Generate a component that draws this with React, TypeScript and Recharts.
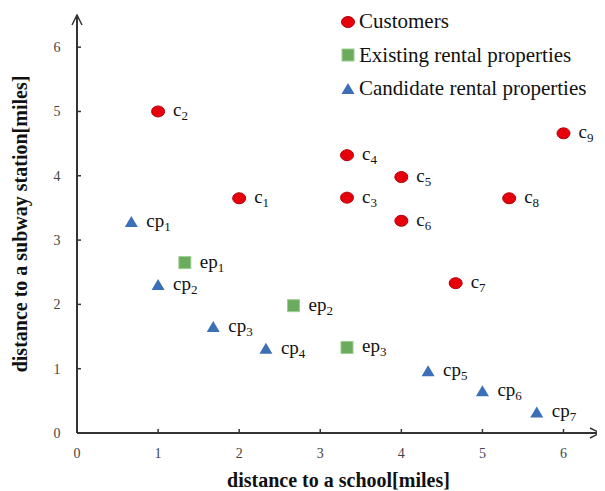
import React from "react";
import { ScatterChart, Scatter, XAxis, YAxis, Legend } from "recharts";

// customers c1..c9
const customerX = [2, 1, 3.33, 3.33, 4, 4, 4.67, 5.33, 6];
const customerY = [3.65, 5, 3.66, 4.32, 3.98, 3.3, 2.33, 3.65, 4.66];

// existing rental properties ep1..ep3
const existingX = [1.33, 2.67, 3.33];
const existingY = [2.65, 1.98, 1.33];

// candidate rental properties cp1..cp7
const candidateX = [0.67, 1, 1.68, 2.33, 4.33, 5, 5.67];
const candidateY = [3.28, 2.3, 1.65, 1.31, 0.96, 0.65, 0.32];

const axisTicks = [0, 1, 2, 3, 4, 5, 6];

const toPoints = (xs: number[], ys: number[]) =>
  xs.map((x, i) => ({ x, y: ys[i], id: i + 1 }));

const customers = toPoints(customerX, customerY);
const existing = toPoints(existingX, existingY);
const candidates = toPoints(candidateX, candidateY);

const RED = "#e5000b";
const GREEN = "#6bab5e";
const BLUE = "#3b70b6";
const SERIF = "'Liberation Serif', 'Times New Roman', serif";

const PointLabel = ({ cx, cy, prefix, id }: any) => (
  <text x={cx + 15} y={cy + 5} fontFamily={SERIF} fontSize={19} fill="#111">
    {prefix}
    <tspan fontSize={13} dy={4}>
      {id}
    </tspan>
  </text>
);

const circleShape = (p: any) => (
  <g>
    <ellipse cx={p.cx} cy={p.cy} rx={6.5} ry={5.5} fill={RED} stroke="#b3000a" strokeWidth={1} />
    <PointLabel cx={p.cx} cy={p.cy} prefix="c" id={p.payload.id} />
  </g>
);

const squareShape = (p: any) => (
  <g>
    <rect x={p.cx - 6} y={p.cy - 6} width={12} height={12} fill={GREEN} stroke="#9ccf92" strokeWidth={1} />
    <PointLabel cx={p.cx} cy={p.cy} prefix="ep" id={p.payload.id} />
  </g>
);

const triangleShape = (p: any) => (
  <g>
    <path d={`M${p.cx},${p.cy - 6} L${p.cx + 6.5},${p.cy + 5} L${p.cx - 6.5},${p.cy + 5} Z`} fill={BLUE} />
    <PointLabel cx={p.cx} cy={p.cy} prefix="cp" id={p.payload.id} />
  </g>
);

const XTick = ({ x, y, payload }: any) => (
  <g>
    {payload.value !== 0 && <line x1={x} y1={y} x2={x} y2={y - 4} stroke="#333" strokeWidth={1.5} />}
    <text x={x} y={y + 25} textAnchor="middle" fontFamily={SERIF} fontSize={14} fill="#444">
      {payload.value}
    </text>
  </g>
);

const YTick = ({ x, y, payload }: any) => (
  <g>
    {payload.value !== 0 && <line x1={x} y1={y} x2={x + 4} y2={y} stroke="#333" strokeWidth={1.5} />}
    <text x={x - 20} y={y + 5} textAnchor="middle" fontFamily={SERIF} fontSize={14} fill="#444">
      {payload.value}
    </text>
  </g>
);

const legendItems = [
  { label: "Customers", kind: "circle" },
  { label: "Existing rental properties", kind: "square" },
  { label: "Candidate rental properties", kind: "triangle" },
];

const LegendIcon = ({ kind }: { kind: string }) => (
  <svg width={14} height={14} style={{ marginRight: 4 }}>
    {kind === "circle" && <ellipse cx={7} cy={7} rx={6.5} ry={5.5} fill={RED} stroke="#b3000a" />}
    {kind === "square" && <rect x={1} y={1} width={12} height={12} fill={GREEN} stroke="#9ccf92" />}
    {kind === "triangle" && <path d="M7,1 L13.5,12 L0.5,12 Z" fill={BLUE} />}
  </svg>
);

const renderLegend = () => (
  <div>
    {legendItems.map((it) => (
      <div
        key={it.label}
        style={{
          display: "flex",
          alignItems: "center",
          height: 33.5,
          fontFamily: SERIF,
          fontSize: 21,
          color: "#111",
          whiteSpace: "nowrap",
        }}
      >
        <LegendIcon kind={it.kind} />
        <span>{it.label}</span>
      </div>
    ))}
  </div>
);

export default function App() {
  return (
    <ScatterChart width={597} height={483} margin={{ top: 7, right: 5, bottom: 0, left: 0 }}>
      <defs>
        <marker
          id="axisArrow"
          viewBox="0 0 12 12"
          refX={11}
          refY={6}
          markerWidth={12}
          markerHeight={12}
          markerUnits="userSpaceOnUse"
          orient="auto-start-reverse"
        >
          <path d="M1,1 L11,6 L1,11" fill="none" stroke="#333" strokeWidth={1.5} />
        </marker>
      </defs>
      <XAxis
        type="number"
        dataKey="x"
        domain={[0, 6.45]}
        ticks={axisTicks}
        height={58}
        tickLine={false}
        tickSize={0}
        tickMargin={0}
        tick={<XTick />}
        axisLine={{ stroke: "#333", strokeWidth: 2, markerEnd: "url(#axisArrow)" }}
        label={{
          value: "distance to a school[miles]",
          position: "insideBottom",
          offset: 4,
          style: { fontFamily: SERIF, fontSize: 20, fontWeight: "bold", fill: "#111" },
        }}
      />
      <YAxis
        type="number"
        dataKey="y"
        domain={[0, 6.5]}
        ticks={axisTicks}
        width={69}
        tickLine={false}
        tickSize={0}
        tickMargin={0}
        tick={<YTick />}
        axisLine={{ stroke: "#333", strokeWidth: 2, markerStart: "url(#axisArrow)" }}
        label={{
          value: "distance to a subway station[miles]",
          angle: -90,
          position: "insideLeft",
          offset: 12,
          style: { fontFamily: SERIF, fontSize: 20, fontWeight: "bold", fill: "#111", textAnchor: "middle" },
        }}
      />
      <Legend
        layout="vertical"
        align="center"
        verticalAlign="middle"
        content={renderLegend}
        wrapperStyle={{ position: "absolute", left: 333, top: -3, width: 270 }}
      />
      <Scatter name="Customers" data={customers} shape={circleShape} isAnimationActive={false} />
      <Scatter name="Existing rental properties" data={existing} shape={squareShape} isAnimationActive={false} />
      <Scatter name="Candidate rental properties" data={candidates} shape={triangleShape} isAnimationActive={false} />
    </ScatterChart>
  );
}
